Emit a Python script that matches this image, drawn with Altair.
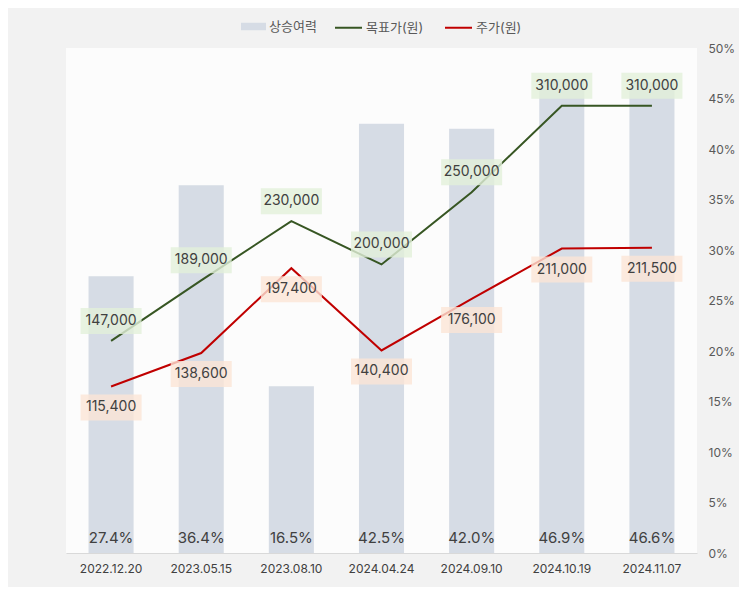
import altair as alt
import pandas as pd

dates = ["2022.12.20", "2023.05.15", "2023.08.10", "2024.04.24", "2024.09.10", "2024.10.19", "2024.11.07"]
upside = [27.4, 36.4, 16.5, 42.5, 42.0, 46.9, 46.6]
target = [147000, 189000, 230000, 200000, 250000, 310000, 310000]
price = [115400, 138600, 197400, 140400, 176100, 211000, 211500]

BAR_NAME = "상승여력"
TGT_NAME = "목표가(원)"
PRC_NAME = "주가(원)"

FONT = "Inter, Noto Sans CJK KR, sans-serif"

df_bar = pd.DataFrame({"date": dates, "upside": upside, "s": [BAR_NAME] * len(dates)})
df_line = pd.DataFrame({
    "date": dates + dates,
    "value": target + price,
    "series": [TGT_NAME] * len(dates) + [PRC_NAME] * len(dates),
})

x_axis = alt.Axis(labelAngle=0, ticks=False, tickSize=0, labelPadding=10,
                  domainColor="#d9d9d9", domainWidth=1,
                  labelColor="#404040", labelFontSize=12, labelFont=FONT)
x_enc = alt.X("date:N", sort=dates, title=None,
              scale=alt.Scale(paddingInner=0.5, paddingOuter=0.25), axis=x_axis)

# ---- bar group (right axis, percent) ----
bar_scale = alt.Scale(domain=[0, 50], nice=False, zero=True)
bars = alt.Chart(df_bar).mark_bar(color="#d6dce5").encode(
    x=x_enc,
    y=alt.Y("upside:Q", scale=bar_scale, title=None,
            axis=alt.Axis(orient="right", values=list(range(0, 55, 5)),
                          labelExpr="datum.value + '%'", domain=False, ticks=False, tickSize=0,
                          grid=False, labelPadding=11, labelColor="#595959", labelFontSize=12,
                          labelFont=FONT, minExtent=42, maxExtent=42)),
    fill=alt.Fill("s:N", scale=alt.Scale(domain=[BAR_NAME], range=["#d6dce5"]),
                  legend=alt.Legend(title=None, orient="none", legendX=175, legendY=-34,
                                    symbolType="M-1,-0.3H1V0.3H-1Z", symbolSize=625,
                                    symbolStrokeWidth=0, labelOffset=3,
                                    labelFont=FONT, labelFontSize=13, labelColor="#595959")),
)
bar_text = alt.Chart(df_bar).transform_calculate(
    lbl="format(datum.upside, '.1f') + '%'"
).mark_text(dy=-15, fontSize=15, color="#404040", font=FONT, baseline="middle").encode(
    x=x_enc,
    y=alt.datum(0),
    text="lbl:N",
)
bar_group = alt.layer(bars, bar_text)

# ---- line group (left axis, KRW) ----
line_scale = alt.Scale(domain=[0, 350000], nice=False)
lines = alt.Chart(df_line).mark_line(strokeWidth=2).encode(
    x=x_enc,
    y=alt.Y("value:Q", scale=line_scale, title=None,
            axis=alt.Axis(orient="left", values=list(range(0, 350001, 50000)), format=",",
                          domain=False, ticks=False, tickSize=0, grid=False, labelPadding=14,
                          labelColor="#595959", labelFontSize=12, labelFont=FONT,
                          minExtent=58, maxExtent=58)),
    stroke=alt.Stroke("series:N",
                      scale=alt.Scale(domain=[TGT_NAME, PRC_NAME], range=["#375623", "#c00000"]),
                      legend=alt.Legend(title=None, orient="none", legendX=268, legendY=-35,
                                        direction="horizontal", symbolType="stroke",
                                        symbolSize=729, symbolStrokeWidth=2, labelOffset=3,
                                        columnPadding=17, labelFont=FONT, labelFontSize=13,
                                        labelColor="#595959")),
    detail="series:N",
)

BOX = "M-1,-0.426H1V0.426H-1Z"


def label_layers(name, fill, off):
    base = alt.Chart(df_line).transform_filter(alt.datum.series == name)
    box = base.mark_point(shape=BOX, size=3721, filled=True, fill=fill, opacity=0.8,
                          strokeWidth=0, yOffset=off).encode(
        x=x_enc, y=alt.Y("value:Q", scale=line_scale, axis=None))
    txt = base.mark_text(dy=off, fontSize=14, color="#404040", font=FONT,
                         baseline="middle").encode(
        x=x_enc, y=alt.Y("value:Q", scale=line_scale, axis=None),
        text=alt.Text("value:Q", format=","))
    return [box, txt]


line_group = alt.layer(lines,
                       *label_layers(TGT_NAME, "#e2f0d9", -20),
                       *label_layers(PRC_NAME, "#fbe5d6", 21))

chart = alt.layer(bar_group, line_group).resolve_scale(
    y="independent", fill="independent", stroke="independent"
).properties(
    width=631, height=505,
    autosize=alt.AutoSizeParams(type="none"),
    padding={"left": 58, "top": 40, "right": 42, "bottom": 34},
    background="#f2f2f2",
).configure_view(fill="#fcfcfc", strokeWidth=0)

chart.save("out.html", embed_options={"renderer": "svg", "actions": False})
